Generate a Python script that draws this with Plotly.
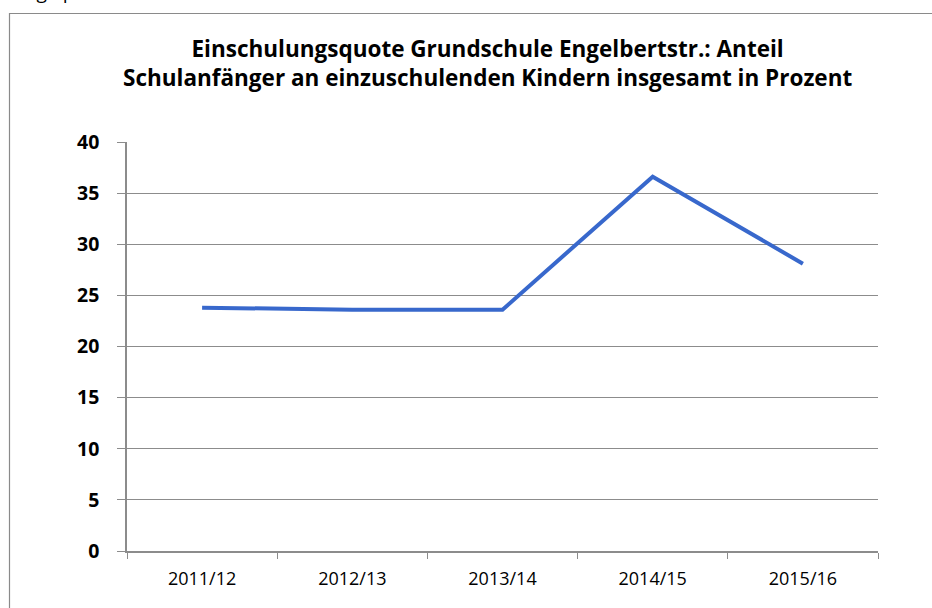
import plotly.graph_objects as go

categories = ["2011/12", "2012/13", "2013/14", "2014/15", "2015/16"]
values = [23.8, 23.6, 23.6, 36.6, 28.1]
y_ticks = [0, 5, 10, 15, 20, 25, 30, 35, 40]

W, H = 932, 608
L, R, T, B = 127, 878, 142, 551

def px(x):
    return (x - L) / (R - L)

def py(y):
    return (B - y) / (B - T)

fig = go.Figure()
fig.add_trace(go.Scatter(
    x=categories, y=values, mode="lines",
    line=dict(color="#3868CC", width=4),
    hoverinfo="skip", showlegend=False,
))

grid = "#8c8c8c"
fig.update_layout(
    width=W, height=H,
    margin=dict(l=L, r=W - R, t=T, b=H - B, pad=0),
    paper_bgcolor="white", plot_bgcolor="white",
    font=dict(family="Open Sans, sans-serif", color="black"),
    xaxis=dict(
        type="category", range=[-0.5, 4.5],
        showgrid=False, showline=True, linecolor=grid, linewidth=1.5,
        ticks="outside", ticklen=6, tickcolor=grid, tickwidth=1,
        tickson="boundaries", ticklabelstandoff=11,
        tickfont=dict(size=18, family="Open Sans, sans-serif"),
        fixedrange=True,
    ),
    yaxis=dict(
        range=[0, 40], tickvals=y_ticks, ticktext=[str(v) for v in y_ticks],
        showgrid=True, gridcolor=grid, gridwidth=1.3,
        showline=True, linecolor=grid, linewidth=1.5,
        ticks="outside", ticklen=8, tickcolor=grid, tickwidth=1,
        ticklabelstandoff=14,
        tickfont=dict(size=19.5, family="Open Sans, sans-serif", weight="bold"),
        zeroline=False, fixedrange=True,
    ),
    shapes=[dict(
        type="rect", xref="paper", yref="paper",
        x0=px(9.5), x1=px(945), y0=py(630), y1=py(13.5),
        line=dict(color="#8a8a8a", width=1.2), fillcolor="rgba(0,0,0,0)",
        layer="below",
    )],
    annotations=[
        dict(
            text="<b>Einschulungsquote Grundschule Engelbertstr.: Anteil<br>Schulanfänger an einzuschulenden Kindern insgesamt in Prozent</b>",
            xref="paper", yref="paper", x=px(487), y=py(63),
            xanchor="center", yanchor="middle", showarrow=False,
            font=dict(size=22.5, family="Open Sans, sans-serif"),
        ),
        dict(
            text="Einschulungsquote in der Grundschule",
            xref="paper", yref="paper", x=px(-62), y=py(7.5),
            xanchor="left", yanchor="bottom", showarrow=False,
            font=dict(size=19, family="Open Sans, sans-serif"),
        ),
    ],
)

fig.write_html(
    "out.html",
    config={"displayModeBar": False},
    post_script="document.body.style.margin='0';document.body.style.padding='0';",
)
